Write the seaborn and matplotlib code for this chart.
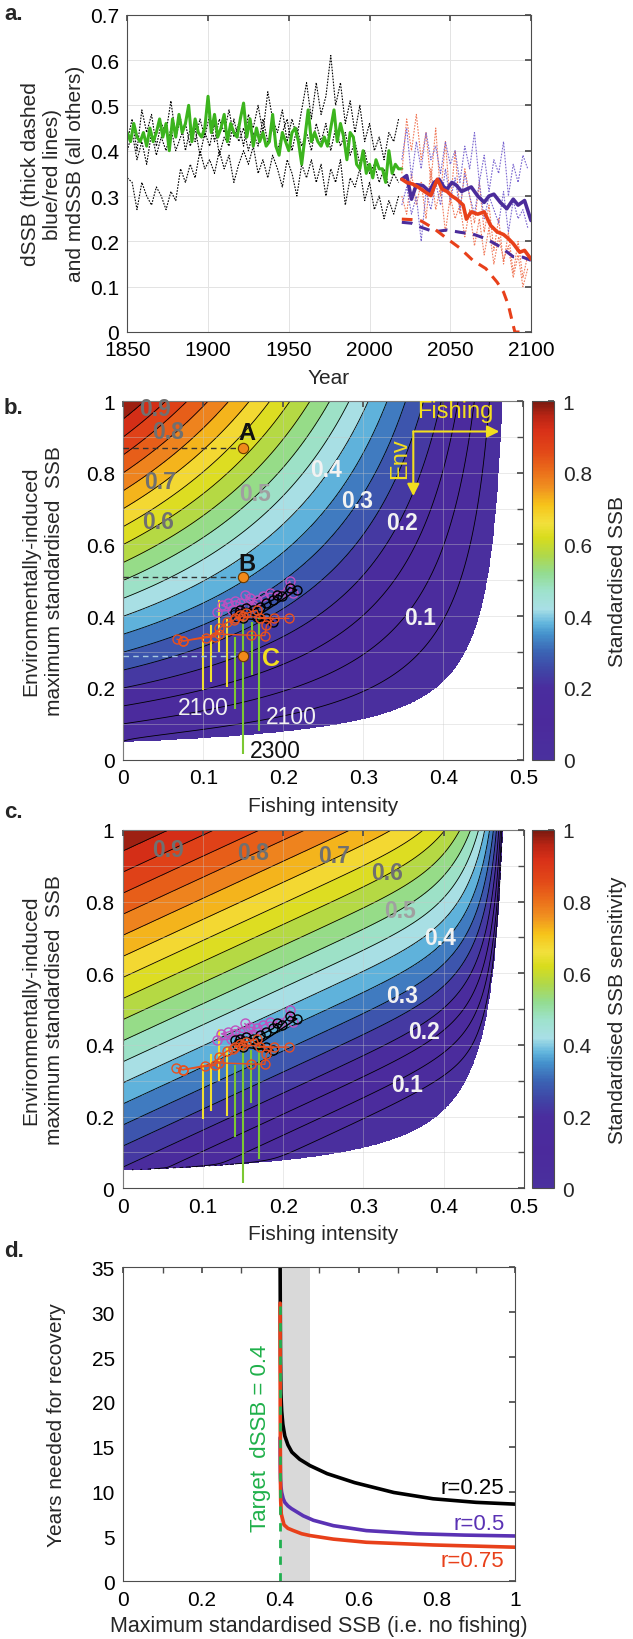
import numpy as np
import matplotlib
matplotlib.use('Agg')
import matplotlib.pyplot as plt
import seaborn as sns
from matplotlib.colors import LinearSegmentedColormap, Normalize
from matplotlib.cm import ScalarMappable
from matplotlib.ticker import MultipleLocator, FuncFormatter

# ---------------- data: panel a ----------------
green_vals = [0.44,0.42,0.46,0.43,0.42,0.44,0.41,0.45,0.42,0.44,
              0.47,0.43,0.46,0.40,0.47,0.43,0.48,0.44,0.46,0.50,
              0.42,0.47,0.44,0.43,0.45,0.52,0.44,0.48,0.43,0.45,
              0.48,0.42,0.46,0.44,0.43,0.47,0.505,0.43,0.47,0.41,
              0.45,0.42,0.44,0.41,0.42,0.48,0.41,0.39,0.44,0.42,
              0.40,0.44,0.45,0.42,0.37,0.43,0.49,0.42,0.44,0.42,
              0.41,0.43,0.41,0.45,0.49,0.42,0.46,0.43,0.38,0.44,
              0.43,0.37,0.36,0.40,0.35,0.37,0.34,0.38,0.36,0.36,
              0.33,0.40,0.35,0.37,0.36,0.36]
black1_vals = [0.42,0.47,0.40,0.49,0.44,0.48,0.41,0.46,0.44,0.51,
               0.43,0.47,0.40,0.45,0.42,0.47,0.43,0.48,0.42,0.47,
               0.44,0.49,0.43,0.46,0.41,0.48,0.45,0.50,0.44,0.53,
               0.47,0.44,0.49,0.42,0.47,0.43,0.49,0.55,0.47,0.55,
               0.48,0.52,0.61,0.50,0.55,0.46,0.51,0.44,0.50,0.42,
               0.46,0.40,0.43,0.38,0.44,0.42,0.47]
black2_vals = [0.34,0.33,0.27,0.33,0.30,0.28,0.32,0.30,0.27,0.31,
               0.29,0.36,0.33,0.37,0.34,0.40,0.36,0.38,0.35,0.40,
               0.36,0.39,0.33,0.37,0.40,0.37,0.41,0.35,0.38,0.34,
               0.39,0.36,0.32,0.38,0.35,0.30,0.37,0.34,0.38,0.33,
               0.37,0.30,0.36,0.33,0.38,0.28,0.34,0.32,0.36,0.29,
               0.33,0.27,0.30,0.25,0.29,0.26,0.30]
black3_vals = [0.40,0.44,0.38,0.42,0.37,0.44,0.39,0.43,0.40,0.45,
               0.40,0.43,0.46,0.41,0.45,0.39,0.44,0.41,0.46,0.39,
               0.43,0.41,0.47,0.42,0.45,0.40,0.44,0.41,0.47,0.42,
               0.45,0.40,0.44,0.47,0.40,0.45,0.41,0.44,0.40,0.46,
               0.42,0.46,0.40,0.45,0.41,0.44,0.39,0.42,0.37,0.40,
               0.35,0.37,0.33,0.36,0.32,0.35,0.33]
red_thin1 = [0.35,0.47,0.40,0.48,0.38,0.44,0.33,0.45,0.30,0.42,0.28,0.40,0.26,0.36,
             0.30,0.24,0.33,0.22,0.28,0.18,0.25,0.15,0.22,0.13,0.20,0.12,0.17]
red_thin2 = [0.30,0.26,0.35,0.28,0.33,0.25,0.36,0.27,0.32,0.22,0.30,0.25,0.28,0.21,
             0.27,0.19,0.25,0.17,0.23,0.15,0.21,0.16,0.19,0.12,0.17,0.10,0.14]
blue_thin1 = [0.38,0.45,0.34,0.42,0.36,0.44,0.38,0.41,0.35,0.42,0.37,0.40,0.33,0.41,
              0.36,0.44,0.33,0.39,0.31,0.38,0.35,0.42,0.30,0.37,0.33,0.39,0.36]
blue_thin2 = [0.28,0.32,0.26,0.30,0.20,0.31,0.27,0.33,0.28,0.36,0.29,0.34,0.27,0.35,
              0.30,0.26,0.33,0.25,0.30,0.27,0.24,0.31,0.22,0.29,0.25,0.27,0.23]
purple_years = [2020,2023,2026,2029,2033,2037,2040,2043,2046,2048,2051,2054,2057,2060,
                2063,2067,2071,2074,2077,2081,2085,2089,2092,2096,2100]
purple_vals = [0.337,0.345,0.293,0.325,0.323,0.31,0.33,0.337,0.32,0.315,0.33,0.323,0.31,
               0.315,0.32,0.30,0.286,0.30,0.304,0.286,0.272,0.293,0.28,0.29,0.246]
red_years = [2020,2023,2027,2030,2034,2038,2040,2042,2045,2048,2051,2054,2058,2060,
             2063,2067,2071,2075,2079,2083,2086,2089,2093,2096,2100]
red_vals = [0.337,0.33,0.326,0.32,0.31,0.301,0.32,0.337,0.315,0.31,0.30,0.293,0.28,0.249,
            0.265,0.26,0.265,0.235,0.221,0.215,0.206,0.195,0.176,0.18,0.161]
pdash_years = [2020,2026,2032,2040,2048,2056,2064,2072,2081,2089,2095,2100]
pdash_vals = [0.242,0.24,0.231,0.221,0.225,0.22,0.216,0.206,0.188,0.166,0.165,0.158]
rdash_years = [2020,2026,2032,2040,2048,2056,2064,2072,2079,2083,2086,2088,2090,2094]
rdash_vals = [0.249,0.248,0.245,0.228,0.206,0.185,0.158,0.14,0.11,0.088,0.059,0.029,0.0,0.0]

# ---------------- data / model parameters: panels b / c ----------------
# boundary of the viable region: F_crit(y) = bnd_a * (1 - (bnd_b / y) ** bnd_q)
bnd_a, bnd_b, bnd_q = 0.489, 0.05, 1.15
p_b = 0.88
c_base, c_slope_y, c_slope_F, c_edge = 0.15, 0.85, 0.88, 12

red_traj1_F = [0.067, 0.075, 0.103, 0.115, 0.120, 0.130, 0.138, 0.146, 0.154, 0.167, 0.171, 0.207]
red_traj1_y = [0.336, 0.331, 0.340, 0.343, 0.366, 0.383, 0.389, 0.403, 0.408, 0.417, 0.394, 0.394]
red_traj2_F = [0.075, 0.120, 0.160, 0.177, 0.179, 0.188, 0.150, 0.140]
red_traj2_y = [0.331, 0.350, 0.347, 0.346, 0.375, 0.394, 0.400, 0.395]
mag_traj_F = [0.117, 0.1355, 0.123, 0.131, 0.140, 0.146, 0.1625, 0.152, 0.158, 0.167, 0.175, 0.183, 0.196, 0.208, 0.2125]
mag_traj_y = [0.413, 0.417, 0.431, 0.436, 0.443, 0.436, 0.431, 0.460, 0.450, 0.446, 0.455, 0.464, 0.460, 0.497, 0.464]
blk_traj_F = [0.142, 0.140, 0.146, 0.154, 0.1625, 0.171, 0.179, 0.1875, 0.192, 0.198, 0.208, 0.217, 0.167, 0.179, 0.1875, 0.150]
blk_traj_y = [0.399, 0.413, 0.417, 0.422, 0.417, 0.427, 0.436, 0.446, 0.460, 0.455, 0.480, 0.473, 0.399, 0.394, 0.385, 0.394]
vl_F = [0.100, 0.1096, 0.120, 0.130, 0.1396, 0.150, 0.1604, 0.170]
vl_top = [0.347, 0.375, 0.445, 0.393, 0.343, 0.393, 0.385, 0.394]
vl_bot = [0.193, 0.217, 0.300, 0.202, 0.142, 0.016, 0.237, 0.081]
pts_F = [0.15, 0.15, 0.15]
pts_y = [0.87, 0.51, 0.29]

lab_txt = ['0.9', '0.8', '0.7', '0.6', '0.5', '0.4', '0.3', '0.2', '0.1']
b_lab_F = [0.039, 0.056, 0.046, 0.043, 0.165, 0.254, 0.292, 0.348, 0.371]
b_lab_y = [0.978, 0.914, 0.776, 0.664, 0.742, 0.808, 0.722, 0.662, 0.397]
c_lab_F = [0.057, 0.163, 0.263, 0.330, 0.346, 0.396, 0.348, 0.375, 0.354]
c_lab_y = [0.946, 0.937, 0.930, 0.880, 0.775, 0.700, 0.537, 0.437, 0.290]

# ---------------- data: panel d ----------------
d_black_x = [0.400, 0.4005, 0.401, 0.402, 0.404, 0.407, 0.412, 0.42, 0.43, 0.45, 0.476, 0.52, 0.59, 0.69, 0.79, 0.9, 1.0]
d_black_y = [36, 30, 25, 21, 19, 17.5, 16.2, 15.2, 14.4, 13.6, 12.9, 12.0, 11.0, 9.9, 9.2, 8.8, 8.6]
d_purple_x = [0.400, 0.4005, 0.401, 0.402, 0.404, 0.408, 0.412, 0.42, 0.429, 0.459, 0.485, 0.536, 0.62, 0.75, 0.87, 1.0]
d_purple_y = [16, 13, 11.5, 10.6, 9.9, 9.2, 8.8, 8.4, 8.1, 7.3, 6.8, 6.2, 5.65, 5.3, 5.15, 5.05]
d_red_x = [0.400, 0.4003, 0.4008, 0.4015, 0.403, 0.41, 0.42, 0.434, 0.455, 0.476, 0.536, 0.62, 0.79, 1.0]
d_red_y = [31, 20, 12, 9, 7.5, 6.3, 5.9, 5.65, 5.3, 5.1, 4.7, 4.35, 4.05, 3.8]
d_labels = ['r=0.25', 'r=0.5', 'r=0.75']
d_label_y = [10.5, 6.4, 2.3]
target = 0.4
band = (0.4, 0.476)

# ---------------- style ----------------
sns.set_theme(style='white')
plt.rcParams['font.family'] = ['Liberation Sans', 'DejaVu Sans']
plt.rcParams['font.size'] = 15
plt.rcParams['axes.linewidth'] = 0.8

W, H = 633, 1640
fig = plt.figure(figsize=(W / 100, H / 100), dpi=100)

def box(l, t, r, b):
    return [l / W, 1 - b / H, (r - l) / W, (b - t) / H]

def px(x, y):
    return (x / W, 1 - y / H)

def mkfmt():
    return FuncFormatter(lambda v, p: ('%g' % round(v, 4)))

EDGE = '#4d4d4d'
TICK = 15

def style_axes(ax):
    for s in ax.spines.values():
        s.set_color(EDGE)
        s.set_linewidth(0.8)
    ax.tick_params(which='both', direction='in', top=True, right=True, color=EDGE,
                   labelsize=TICK, pad=6, labelcolor='black', length=4)

def line(ax, x, y, **kw):
    sns.lineplot(x=np.asarray(x, float), y=np.asarray(y, float), ax=ax,
                 estimator=None, sort=False, legend=False, **kw)

cmap = LinearSegmentedColormap.from_list('ssb', [
    (0.00, '#4a309e'), (0.10, '#4b2a9c'), (0.20, '#4a2d9e'), (0.25, '#3f46a6'),
    (0.30, '#3b64b4'), (0.35, '#4592cc'), (0.38, '#62b6dd'), (0.42, '#a9dfe6'),
    (0.47, '#9ee2cc'), (0.52, '#93dc90'), (0.57, '#b0d84a'), (0.62, '#d8dc1c'),
    (0.66, '#f2e03c'), (0.71, '#f6c41a'), (0.76, '#f09020'), (0.81, '#ea6a1a'),
    (0.86, '#e24818'), (0.92, '#d83018'), (0.96, '#b82414'), (1.00, '#7a1a10')])
norm = Normalize(0, 1)
YELLOW = '#f2de1f'

# ---------------- panel a ----------------
axa = fig.add_axes(box(127.3, 15.7, 531, 333))
style_axes(axa)
by = np.arange(1850, 1850 + 3 * len(black1_vals), 3)
for vals in (black1_vals, black2_vals, black3_vals):
    line(axa, by, vals, color='black', lw=0.8, linestyle=(0, (1.5, 1.2)))
gy = np.arange(1850, 1850 + 2 * len(green_vals), 2)
line(axa, gy, green_vals, color='#3cb41e', lw=2.2)
fy = np.arange(2020, 2020 + 3 * len(red_thin1), 3)
for vals in (red_thin1, red_thin2):
    line(axa, fy, vals, color='#f07a5a', lw=0.8, linestyle=(0, (1.5, 1.2)))
for vals in (blue_thin1, blue_thin2):
    line(axa, fy, vals, color='#7a66d0', lw=0.8, linestyle=(0, (1.5, 1.2)))
line(axa, pdash_years, pdash_vals, color='#4b2c9b', lw=2.2, linestyle=(0, (3.5, 2.5)))
line(axa, rdash_years, rdash_vals, color='#e8401a', lw=2.2, linestyle=(0, (3.5, 2.5)))
line(axa, purple_years, purple_vals, color='#4b2c9b', lw=2.6)
line(axa, red_years, red_vals, color='#e8401a', lw=2.6)
axa.set_xlim(1850, 2100)
axa.set_ylim(0, 0.7)
axa.xaxis.set_major_locator(MultipleLocator(50))
axa.yaxis.set_major_locator(MultipleLocator(0.1))
axa.yaxis.set_major_formatter(mkfmt())
axa.grid(True, color='#e3e3e3', lw=0.7)
axa.set_axisbelow(True)
axa.set_xlabel('')
axa.set_ylabel('')

# ---------------- fields for b / c ----------------
Fg = np.linspace(0, 0.5, 900)
Yg = np.linspace(0, 1, 900)
FF, YY = np.meshgrid(Fg, Yg)
Ysafe = np.maximum(YY, bnd_b)
Fc = bnd_a * (1 - (bnd_b / Ysafe) ** bnd_q)
valid = (YY > bnd_b) & (FF < Fc)
ratio = np.where(valid, FF / np.maximum(Fc, 1e-9), np.nan)
Zb = YY * (1 - ratio) ** p_b
Zc = np.clip((c_base + c_slope_y * YY - c_slope_F * FF), 0, 1) * (1 - ratio ** c_edge) ** 0.5
levels = np.round(np.arange(0, 1.0001, 0.05), 2)

def contour_panel(ax, Z, lab_F, lab_y, cb_box, cb_label):
    style_axes(ax)
    ax.contourf(FF, YY, Z, levels=levels, cmap=cmap, norm=norm, zorder=1)
    ax.contour(FF, YY, Z, levels=levels[1:-1], colors='black', linewidths=0.6, zorder=1.5)
    ax.set_xlim(0, 0.5)
    ax.set_ylim(0, 1)
    ax.xaxis.set_major_locator(MultipleLocator(0.1))
    ax.yaxis.set_major_locator(MultipleLocator(0.2))
    ax.yaxis.set_minor_locator(MultipleLocator(0.1))
    ax.xaxis.set_major_formatter(mkfmt())
    ax.yaxis.set_major_formatter(mkfmt())
    ax.set_axisbelow(False)
    ax.grid(True, which='both', color='#c8c8c8', lw=0.6, alpha=0.45, zorder=2)
    ax.set_xlabel('')
    ax.set_ylabel('')
    for t, f, y in zip(lab_txt, lab_F, lab_y):
        v = float(t)
        col = '#707070' if v >= 0.6 else ('#a0a0a0' if v == 0.5 else '#f2f2f2')
        ax.text(f, y, t, color=col, fontsize=16.5, fontweight='bold', ha='center', va='center', zorder=6)
    vcols = ['#f0e030'] * 4 + ['#7cc832'] * 4
    ax.vlines(vl_F, vl_bot, vl_top, colors=vcols, lw=1.5, zorder=3)
    for Fs, Ys, col in ((mag_traj_F, mag_traj_y, '#c050c0'), (blk_traj_F, blk_traj_y, 'black'),
                        (red_traj1_F, red_traj1_y, '#e8501e'), (red_traj2_F, red_traj2_y, '#e8501e')):
        line(ax, Fs, Ys, color=col, lw=1.0, marker='o', markersize=6.5,
             markerfacecolor='none', markeredgecolor=col, markeredgewidth=1.0, zorder=4)
    cax = fig.add_axes(cb_box)
    cb = fig.colorbar(ScalarMappable(norm=norm, cmap=cmap), cax=cax)
    cb.set_ticks([0, 0.2, 0.4, 0.6, 0.8, 1.0])
    cb.formatter = mkfmt()
    cb.update_ticks()
    cb.ax.yaxis.set_minor_locator(MultipleLocator(0.1))
    cb.outline.set_edgecolor(EDGE)
    cb.outline.set_linewidth(0.8)
    cb.ax.tick_params(which='both', direction='in', length=4, color=EDGE, labelsize=TICK, pad=6)
    cb.set_label(cb_label, fontsize=15, labelpad=12)
    return ax

# ---------------- panel b ----------------
axb = fig.add_axes(box(123.3, 402, 523.3, 760.7))
contour_panel(axb, Zb, b_lab_F, b_lab_y, box(532.3, 402, 554.3, 760.7), 'Standardised SSB')
for f, y in zip(pts_F[:2], pts_y[:2]):
    axb.plot([0, f], [y, y], color='#333333', lw=1.0, ls=(0, (4, 3)), zorder=3)
axb.plot([0, pts_F[2]], [pts_y[2], pts_y[2]], color='#a8c8e0', lw=1.0, ls=(0, (4, 3)), zorder=3)
sns.scatterplot(x=pts_F, y=pts_y, ax=axb, color='#f08a1a', edgecolor='#6b3a00', s=55,
                linewidth=0.8, zorder=5, legend=False)
axb.text(0.154, 0.912, 'A', fontsize=17, fontweight='bold', color='#111111', ha='center', va='center', zorder=6)
axb.text(0.154, 0.547, 'B', fontsize=17, fontweight='bold', color='#111111', ha='center', va='center', zorder=6)
axb.text(0.185, 0.283, 'C', fontsize=18, fontweight='bold', color=YELLOW, ha='center', va='center', zorder=6)
axb.text(0.100, 0.145, '2100', fontsize=16.5, color='#f2f2f2', ha='center', va='center', zorder=6)
axb.text(0.210, 0.120, '2100', fontsize=16.5, color='#f2f2f2', ha='center', va='center', zorder=6)
axb.text(0.190, 0.025, '2300', fontsize=16.5, color='#111111', ha='center', va='center', zorder=6)
axb.annotate('', xy=(0.470, 0.915), xytext=(0.3625, 0.915),
             arrowprops=dict(arrowstyle='-|>', color=YELLOW, lw=1.5, mutation_scale=18,
                             shrinkA=0, shrinkB=0), zorder=6)
axb.annotate('', xy=(0.3625, 0.735), xytext=(0.3625, 0.915),
             arrowprops=dict(arrowstyle='-|>', color=YELLOW, lw=1.5, mutation_scale=18,
                             shrinkA=0, shrinkB=0), zorder=6)
axb.text(0.415, 0.972, 'Fishing', fontsize=17, color=YELLOW, ha='center', va='center', zorder=6)
axb.text(0.346, 0.842, 'Env', fontsize=17, color=YELLOW, ha='center', va='center', rotation=90, zorder=6)

# ---------------- panel c ----------------
axc = fig.add_axes(box(122.7, 831, 524, 1189.3))
contour_panel(axc, Zc, c_lab_F, c_lab_y, box(531.7, 831, 554, 1189.3), 'Standardised SSB sensitivity')

# ---------------- panel d ----------------
axd = fig.add_axes(box(123.3, 1268.3, 515.3, 1582.3))
style_axes(axd)
axd.axvspan(band[0], band[1], color='#d9d9d9', lw=0, zorder=0)
line(axd, d_black_x, d_black_y, color='black', lw=2.6)
line(axd, d_purple_x, d_purple_y, color='#5a32b4', lw=2.6)
line(axd, d_red_x, d_red_y, color='#e8401a', lw=2.6)
line(axd, [target, target], [0, 31], color='#20b050', lw=2.0, linestyle=(0, (3, 3)))
axd.set_xlim(0, 1)
axd.set_ylim(0, 35)
axd.xaxis.set_major_locator(MultipleLocator(0.2))
axd.xaxis.set_minor_locator(MultipleLocator(0.1))
axd.yaxis.set_major_locator(MultipleLocator(5))
axd.xaxis.set_major_formatter(mkfmt())
axd.grid(False)
axd.set_xlabel('')
axd.set_ylabel('')
for t, y, c in zip(d_labels, d_label_y, ['black', '#5a32b4', '#e8401a']):
    axd.text(0.972, y, t, color=c, fontsize=16, ha='right', va='center')
axd.text(0.349, 16, 'Target  dSSB = 0.4', color='#1fb04a', fontsize=16, rotation=90,
         ha='center', va='center')

# ---------------- figure texts ----------------
fig.text(*px(4, 14), 'a.', fontsize=16, fontweight='bold', ha='left', va='center')
fig.text(*px(4, 408), 'b.', fontsize=16, fontweight='bold', ha='left', va='center')
fig.text(*px(4, 813), 'c.', fontsize=16, fontweight='bold', ha='left', va='center')
fig.text(*px(4, 1252), 'd.', fontsize=16, fontweight='bold', ha='left', va='center')

fig.text(*px(53, 174), 'dSSB (thick dashed\nblue/red lines)\nand mdSSB (all others)', fontsize=15,
         rotation=90, ha='center', va='center', multialignment='center', linespacing=1.25)
fig.text(*px(43, 581), 'Environmentally-induced\nmaximum standardised  SSB', fontsize=15,
         rotation=90, ha='center', va='center', multialignment='center', linespacing=1.3)
fig.text(*px(43, 1010), 'Environmentally-induced\nmaximum standardised  SSB', fontsize=15,
         rotation=90, ha='center', va='center', multialignment='center', linespacing=1.3)
fig.text(*px(57, 1425), 'Years needed for recovery', fontsize=15,
         rotation=90, ha='center', va='center')

fig.text(*px(329, 379), 'Year', fontsize=15, ha='center', va='center')
fig.text(*px(323.3, 807), 'Fishing intensity', fontsize=15, ha='center', va='center')
fig.text(*px(323.3, 1235), 'Fishing intensity', fontsize=15, ha='center', va='center')
fig.text(*px(319.3, 1627), 'Maximum standardised SSB (i.e. no fishing)', fontsize=15.5,
         ha='center', va='center')

fig.savefig('out.png', dpi=100, facecolor='white')
